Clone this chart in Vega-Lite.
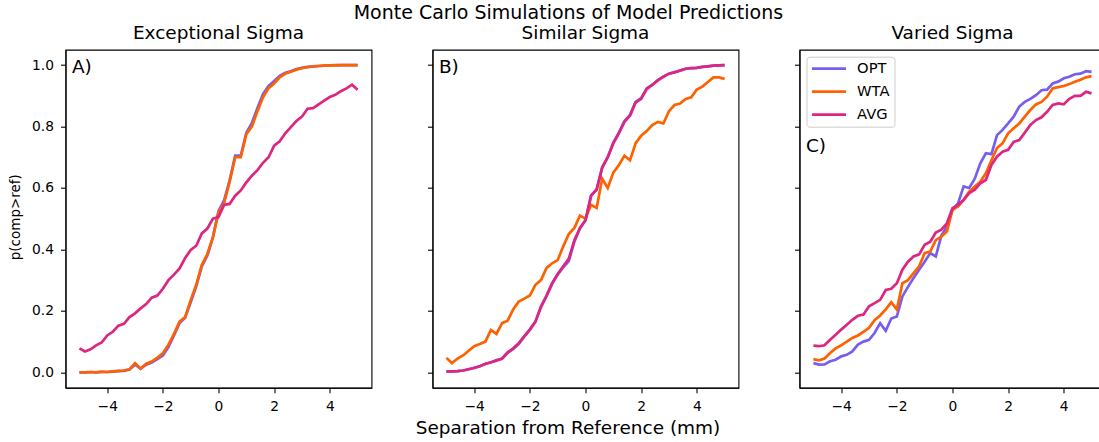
{
  "$schema": "https://vega.github.io/schema/vega-lite/v6.json",
  "padding": {"left": 7.5, "top": 3.7, "right": 0, "bottom": 0},
  "background": "white",
  "bounds": "flush",
  "title": {"text": "Monte Carlo Simulations of Model Predictions", "fontSize": 19, "fontWeight": "normal", "font": "DejaVu Sans", "anchor": "middle", "dx": 11.4, "offset": -14.7, "baseline": "alphabetic", "color": "#000"},
  "config": {
    "font": "DejaVu Sans",
    "view": {"stroke": "#000", "strokeWidth": 1.1},
    "axis": {"grid": false, "domainColor": "#000", "tickColor": "#000", "labelColor": "#000", "titleColor": "#000", "labelFontSize": 13.8, "titleFontSize": 13.5, "titleFontWeight": "normal", "tickSize": 5, "labelPadding": 7, "domainWidth": 1.1, "tickWidth": 1.1, "labelFont": "DejaVu Sans", "titleFont": "DejaVu Sans"},
    "title": {"fontSize": 18.5, "fontWeight": "normal", "color": "#000", "offset": 7.6, "baseline": "alphabetic", "font": "DejaVu Sans"},
    "legend": {"orient": "top-left", "offset": 7, "title": null, "symbolType": "stroke", "symbolStrokeWidth": 2.7, "symbolSize": 1156, "clipHeight": 16, "rowPadding": 7, "padding": 4, "labelOffset": 9.6, "labelFontSize": 14.7, "labelColor": "#000", "labelFont": "DejaVu Sans", "fillColor": "white", "strokeColor": "#cccccc", "cornerRadius": 3}
  },
  "spacing": 61,
  "resolve": {"legend": {"color": "independent"}},
  "datasets": {
    "A": [
      {"x": -5.0, "OPT": 0.000, "WTA": 0.000, "AVG": 0.078},
      {"x": -4.8, "OPT": 0.000, "WTA": 0.000, "AVG": 0.068},
      {"x": -4.6, "OPT": 0.001, "WTA": 0.001, "AVG": 0.075},
      {"x": -4.4, "OPT": 0.000, "WTA": 0.000, "AVG": 0.088},
      {"x": -4.2, "OPT": 0.001, "WTA": 0.002, "AVG": 0.097},
      {"x": -4.0, "OPT": 0.001, "WTA": 0.001, "AVG": 0.120},
      {"x": -3.8, "OPT": 0.002, "WTA": 0.003, "AVG": 0.132},
      {"x": -3.6, "OPT": 0.004, "WTA": 0.005, "AVG": 0.152},
      {"x": -3.4, "OPT": 0.005, "WTA": 0.006, "AVG": 0.158},
      {"x": -3.2, "OPT": 0.009, "WTA": 0.010, "AVG": 0.180},
      {"x": -3.0, "OPT": 0.025, "WTA": 0.030, "AVG": 0.192},
      {"x": -2.8, "OPT": 0.012, "WTA": 0.012, "AVG": 0.208},
      {"x": -2.6, "OPT": 0.025, "WTA": 0.028, "AVG": 0.222},
      {"x": -2.4, "OPT": 0.032, "WTA": 0.035, "AVG": 0.243},
      {"x": -2.2, "OPT": 0.043, "WTA": 0.048, "AVG": 0.250},
      {"x": -2.0, "OPT": 0.055, "WTA": 0.062, "AVG": 0.272},
      {"x": -1.8, "OPT": 0.082, "WTA": 0.090, "AVG": 0.300},
      {"x": -1.6, "OPT": 0.120, "WTA": 0.125, "AVG": 0.318},
      {"x": -1.4, "OPT": 0.160, "WTA": 0.165, "AVG": 0.338},
      {"x": -1.2, "OPT": 0.178, "WTA": 0.180, "AVG": 0.372},
      {"x": -1.0, "OPT": 0.228, "WTA": 0.235, "AVG": 0.398},
      {"x": -0.8, "OPT": 0.280, "WTA": 0.285, "AVG": 0.412},
      {"x": -0.6, "OPT": 0.345, "WTA": 0.350, "AVG": 0.452},
      {"x": -0.4, "OPT": 0.380, "WTA": 0.385, "AVG": 0.468},
      {"x": -0.2, "OPT": 0.440, "WTA": 0.440, "AVG": 0.500},
      {"x": 0.0, "OPT": 0.525, "WTA": 0.520, "AVG": 0.505},
      {"x": 0.2, "OPT": 0.560, "WTA": 0.550, "AVG": 0.545},
      {"x": 0.4, "OPT": 0.625, "WTA": 0.620, "AVG": 0.548},
      {"x": 0.6, "OPT": 0.705, "WTA": 0.700, "AVG": 0.575},
      {"x": 0.8, "OPT": 0.705, "WTA": 0.700, "AVG": 0.592},
      {"x": 1.0, "OPT": 0.780, "WTA": 0.775, "AVG": 0.618},
      {"x": 1.2, "OPT": 0.812, "WTA": 0.800, "AVG": 0.640},
      {"x": 1.4, "OPT": 0.860, "WTA": 0.850, "AVG": 0.658},
      {"x": 1.6, "OPT": 0.905, "WTA": 0.895, "AVG": 0.682},
      {"x": 1.8, "OPT": 0.932, "WTA": 0.925, "AVG": 0.700},
      {"x": 2.0, "OPT": 0.948, "WTA": 0.940, "AVG": 0.738},
      {"x": 2.2, "OPT": 0.965, "WTA": 0.960, "AVG": 0.752},
      {"x": 2.4, "OPT": 0.975, "WTA": 0.972, "AVG": 0.778},
      {"x": 2.6, "OPT": 0.980, "WTA": 0.978, "AVG": 0.798},
      {"x": 2.8, "OPT": 0.987, "WTA": 0.985, "AVG": 0.818},
      {"x": 3.0, "OPT": 0.991, "WTA": 0.990, "AVG": 0.832},
      {"x": 3.2, "OPT": 0.994, "WTA": 0.993, "AVG": 0.858},
      {"x": 3.4, "OPT": 0.996, "WTA": 0.996, "AVG": 0.860},
      {"x": 3.6, "OPT": 0.997, "WTA": 0.997, "AVG": 0.872},
      {"x": 3.8, "OPT": 0.998, "WTA": 0.998, "AVG": 0.884},
      {"x": 4.0, "OPT": 0.999, "WTA": 0.999, "AVG": 0.896},
      {"x": 4.2, "OPT": 1.000, "WTA": 0.999, "AVG": 0.903},
      {"x": 4.4, "OPT": 1.000, "WTA": 1.000, "AVG": 0.915},
      {"x": 4.6, "OPT": 1.000, "WTA": 1.000, "AVG": 0.924},
      {"x": 4.8, "OPT": 1.000, "WTA": 1.000, "AVG": 0.936},
      {"x": 5.0, "OPT": 1.000, "WTA": 1.000, "AVG": 0.920}
    ],
    "B": [
      {"x": -5.0, "OPT": 0.003, "WTA": 0.047, "AVG": 0.003},
      {"x": -4.8, "OPT": 0.003, "WTA": 0.030, "AVG": 0.003},
      {"x": -4.6, "OPT": 0.004, "WTA": 0.045, "AVG": 0.004},
      {"x": -4.4, "OPT": 0.006, "WTA": 0.055, "AVG": 0.006},
      {"x": -4.2, "OPT": 0.010, "WTA": 0.070, "AVG": 0.010},
      {"x": -4.0, "OPT": 0.015, "WTA": 0.085, "AVG": 0.014},
      {"x": -3.8, "OPT": 0.020, "WTA": 0.092, "AVG": 0.020},
      {"x": -3.6, "OPT": 0.027, "WTA": 0.100, "AVG": 0.028},
      {"x": -3.4, "OPT": 0.032, "WTA": 0.138, "AVG": 0.033},
      {"x": -3.2, "OPT": 0.040, "WTA": 0.125, "AVG": 0.038},
      {"x": -3.0, "OPT": 0.044, "WTA": 0.160, "AVG": 0.045},
      {"x": -2.8, "OPT": 0.063, "WTA": 0.168, "AVG": 0.065},
      {"x": -2.6, "OPT": 0.076, "WTA": 0.205, "AVG": 0.078},
      {"x": -2.4, "OPT": 0.092, "WTA": 0.230, "AVG": 0.095},
      {"x": -2.2, "OPT": 0.116, "WTA": 0.240, "AVG": 0.118},
      {"x": -2.0, "OPT": 0.138, "WTA": 0.250, "AVG": 0.140},
      {"x": -1.8, "OPT": 0.165, "WTA": 0.285, "AVG": 0.165},
      {"x": -1.6, "OPT": 0.212, "WTA": 0.300, "AVG": 0.215},
      {"x": -1.4, "OPT": 0.248, "WTA": 0.340, "AVG": 0.250},
      {"x": -1.2, "OPT": 0.288, "WTA": 0.355, "AVG": 0.290},
      {"x": -1.0, "OPT": 0.318, "WTA": 0.365, "AVG": 0.320},
      {"x": -0.8, "OPT": 0.342, "WTA": 0.410, "AVG": 0.345},
      {"x": -0.6, "OPT": 0.362, "WTA": 0.450, "AVG": 0.370},
      {"x": -0.4, "OPT": 0.425, "WTA": 0.470, "AVG": 0.430},
      {"x": -0.2, "OPT": 0.468, "WTA": 0.510, "AVG": 0.470},
      {"x": 0.0, "OPT": 0.495, "WTA": 0.500, "AVG": 0.495},
      {"x": 0.2, "OPT": 0.575, "WTA": 0.545, "AVG": 0.575},
      {"x": 0.4, "OPT": 0.595, "WTA": 0.535, "AVG": 0.595},
      {"x": 0.6, "OPT": 0.668, "WTA": 0.630, "AVG": 0.665},
      {"x": 0.8, "OPT": 0.700, "WTA": 0.600, "AVG": 0.700},
      {"x": 1.0, "OPT": 0.748, "WTA": 0.650, "AVG": 0.745},
      {"x": 1.2, "OPT": 0.780, "WTA": 0.675, "AVG": 0.778},
      {"x": 1.4, "OPT": 0.818, "WTA": 0.705, "AVG": 0.815},
      {"x": 1.6, "OPT": 0.838, "WTA": 0.690, "AVG": 0.835},
      {"x": 1.8, "OPT": 0.880, "WTA": 0.745, "AVG": 0.878},
      {"x": 2.0, "OPT": 0.892, "WTA": 0.770, "AVG": 0.890},
      {"x": 2.2, "OPT": 0.924, "WTA": 0.785, "AVG": 0.922},
      {"x": 2.4, "OPT": 0.936, "WTA": 0.805, "AVG": 0.935},
      {"x": 2.6, "OPT": 0.951, "WTA": 0.815, "AVG": 0.950},
      {"x": 2.8, "OPT": 0.962, "WTA": 0.810, "AVG": 0.962},
      {"x": 3.0, "OPT": 0.972, "WTA": 0.850, "AVG": 0.972},
      {"x": 3.2, "OPT": 0.977, "WTA": 0.870, "AVG": 0.976},
      {"x": 3.4, "OPT": 0.982, "WTA": 0.875, "AVG": 0.982},
      {"x": 3.6, "OPT": 0.988, "WTA": 0.890, "AVG": 0.988},
      {"x": 3.8, "OPT": 0.990, "WTA": 0.895, "AVG": 0.990},
      {"x": 4.0, "OPT": 0.991, "WTA": 0.920, "AVG": 0.991},
      {"x": 4.2, "OPT": 0.994, "WTA": 0.930, "AVG": 0.994},
      {"x": 4.4, "OPT": 0.996, "WTA": 0.945, "AVG": 0.996},
      {"x": 4.6, "OPT": 0.998, "WTA": 0.960, "AVG": 0.998},
      {"x": 4.8, "OPT": 0.999, "WTA": 0.960, "AVG": 0.999},
      {"x": 5.0, "OPT": 1.000, "WTA": 0.955, "AVG": 1.000}
    ],
    "C": [
      {"x": -5.0, "OPT": 0.030, "WTA": 0.043, "AVG": 0.087},
      {"x": -4.8, "OPT": 0.025, "WTA": 0.039, "AVG": 0.085},
      {"x": -4.6, "OPT": 0.026, "WTA": 0.045, "AVG": 0.088},
      {"x": -4.4, "OPT": 0.036, "WTA": 0.063, "AVG": 0.106},
      {"x": -4.2, "OPT": 0.041, "WTA": 0.078, "AVG": 0.122},
      {"x": -4.0, "OPT": 0.052, "WTA": 0.088, "AVG": 0.139},
      {"x": -3.8, "OPT": 0.057, "WTA": 0.100, "AVG": 0.155},
      {"x": -3.6, "OPT": 0.068, "WTA": 0.112, "AVG": 0.171},
      {"x": -3.4, "OPT": 0.090, "WTA": 0.120, "AVG": 0.184},
      {"x": -3.2, "OPT": 0.100, "WTA": 0.132, "AVG": 0.188},
      {"x": -3.0, "OPT": 0.106, "WTA": 0.145, "AVG": 0.215},
      {"x": -2.8, "OPT": 0.128, "WTA": 0.170, "AVG": 0.225},
      {"x": -2.6, "OPT": 0.160, "WTA": 0.185, "AVG": 0.236},
      {"x": -2.4, "OPT": 0.135, "WTA": 0.205, "AVG": 0.268},
      {"x": -2.2, "OPT": 0.175, "WTA": 0.228, "AVG": 0.272},
      {"x": -2.0, "OPT": 0.182, "WTA": 0.204, "AVG": 0.290},
      {"x": -1.8, "OPT": 0.247, "WTA": 0.290, "AVG": 0.334},
      {"x": -1.6, "OPT": 0.278, "WTA": 0.300, "AVG": 0.360},
      {"x": -1.4, "OPT": 0.307, "WTA": 0.323, "AVG": 0.377},
      {"x": -1.2, "OPT": 0.334, "WTA": 0.345, "AVG": 0.384},
      {"x": -1.0, "OPT": 0.360, "WTA": 0.388, "AVG": 0.415},
      {"x": -0.8, "OPT": 0.388, "WTA": 0.393, "AVG": 0.425},
      {"x": -0.6, "OPT": 0.377, "WTA": 0.430, "AVG": 0.455},
      {"x": -0.4, "OPT": 0.445, "WTA": 0.442, "AVG": 0.464},
      {"x": -0.2, "OPT": 0.475, "WTA": 0.458, "AVG": 0.485},
      {"x": 0.0, "OPT": 0.529, "WTA": 0.529, "AVG": 0.534},
      {"x": 0.2, "OPT": 0.550, "WTA": 0.540, "AVG": 0.545},
      {"x": 0.4, "OPT": 0.605, "WTA": 0.561, "AVG": 0.561},
      {"x": 0.6, "OPT": 0.600, "WTA": 0.588, "AVG": 0.583},
      {"x": 0.8, "OPT": 0.630, "WTA": 0.605, "AVG": 0.594},
      {"x": 1.0, "OPT": 0.680, "WTA": 0.620, "AVG": 0.615},
      {"x": 1.2, "OPT": 0.713, "WTA": 0.648, "AVG": 0.626},
      {"x": 1.4, "OPT": 0.710, "WTA": 0.690, "AVG": 0.675},
      {"x": 1.6, "OPT": 0.772, "WTA": 0.730, "AVG": 0.702},
      {"x": 1.8, "OPT": 0.789, "WTA": 0.745, "AVG": 0.718},
      {"x": 2.0, "OPT": 0.810, "WTA": 0.778, "AVG": 0.724},
      {"x": 2.2, "OPT": 0.832, "WTA": 0.794, "AVG": 0.750},
      {"x": 2.4, "OPT": 0.865, "WTA": 0.810, "AVG": 0.756},
      {"x": 2.6, "OPT": 0.880, "WTA": 0.832, "AVG": 0.780},
      {"x": 2.8, "OPT": 0.890, "WTA": 0.854, "AVG": 0.805},
      {"x": 3.0, "OPT": 0.902, "WTA": 0.872, "AVG": 0.821},
      {"x": 3.2, "OPT": 0.918, "WTA": 0.880, "AVG": 0.830},
      {"x": 3.4, "OPT": 0.920, "WTA": 0.897, "AVG": 0.848},
      {"x": 3.6, "OPT": 0.940, "WTA": 0.924, "AVG": 0.870},
      {"x": 3.8, "OPT": 0.946, "WTA": 0.928, "AVG": 0.875},
      {"x": 4.0, "OPT": 0.957, "WTA": 0.932, "AVG": 0.872},
      {"x": 4.2, "OPT": 0.962, "WTA": 0.938, "AVG": 0.890},
      {"x": 4.4, "OPT": 0.970, "WTA": 0.946, "AVG": 0.900},
      {"x": 4.6, "OPT": 0.972, "WTA": 0.952, "AVG": 0.900},
      {"x": 4.8, "OPT": 0.980, "WTA": 0.960, "AVG": 0.913},
      {"x": 5.0, "OPT": 0.978, "WTA": 0.964, "AVG": 0.908}
    ]
  },
  "hconcat": [
    {
      "width": 306, "height": 338,
      "title": "Exceptional Sigma",
      "layer": [
        {
          "data": {"name": "A"},
          "transform": [{"fold": ["OPT", "WTA", "AVG"], "as": ["model", "p"]}],
          "mark": {"type": "line", "strokeWidth": 2.7},
          "encoding": {
            "x": {"field": "x", "type": "quantitative", "scale": {"domain": [-5.5, 5.5], "nice": false, "zero": false}, "axis": {"values": [-4, -2, 0, 2, 4], "title": null}},
            "y": {"field": "p", "type": "quantitative", "scale": {"domain": [-0.05, 1.05], "nice": false, "zero": false}, "axis": {"values": [0, 0.2, 0.4, 0.6, 0.8, 1.0], "format": ".1f", "title": "p(comp>ref)", "titleX": -46, "titleY": 167, "titleBaseline": "alphabetic", "titleAngle": 270}},
            "color": {"field": "model", "type": "nominal", "sort": ["OPT", "WTA", "AVG"], "scale": {"domain": ["OPT", "WTA", "AVG"], "range": ["#785EF0", "#FE6100", "#DC267F"]}, "legend": null}
          }
        },
        {
          "data": {"values": [{"label": "A)"}]},
          "mark": {"type": "text", "align": "left", "baseline": "alphabetic", "fontSize": 18.5, "color": "#000"},
          "encoding": {"x": {"datum": -5.27}, "y": {"datum": 0.975}, "text": {"field": "label"}}
        }
      ]
    },
    {
      "width": 306, "height": 338,
      "title": "Similar Sigma",
      "layer": [
        {
          "data": {"name": "B"},
          "transform": [{"fold": ["OPT", "WTA", "AVG"], "as": ["model", "p"]}],
          "mark": {"type": "line", "strokeWidth": 2.7},
          "encoding": {
            "x": {"field": "x", "type": "quantitative", "scale": {"domain": [-5.5, 5.5], "nice": false, "zero": false}, "axis": {"values": [-4, -2, 0, 2, 4], "title": "Separation from Reference (mm)", "titleFontSize": 18.5, "titleX": 135, "titleY": 45.6, "titleBaseline": "alphabetic", "titleAlign": "center"}},
            "y": {"field": "p", "type": "quantitative", "scale": {"domain": [-0.05, 1.05], "nice": false, "zero": false}, "axis": {"values": [0, 0.2, 0.4, 0.6, 0.8, 1.0], "labels": false, "title": null}},
            "color": {"field": "model", "type": "nominal", "sort": ["OPT", "WTA", "AVG"], "scale": {"domain": ["OPT", "WTA", "AVG"], "range": ["#785EF0", "#FE6100", "#DC267F"]}, "legend": null}
          }
        },
        {
          "data": {"values": [{"label": "B)"}]},
          "mark": {"type": "text", "align": "left", "baseline": "alphabetic", "fontSize": 18.5, "color": "#000"},
          "encoding": {"x": {"datum": -5.27}, "y": {"datum": 0.975}, "text": {"field": "label"}}
        }
      ]
    },
    {
      "width": 306, "height": 338,
      "title": "Varied Sigma",
      "layer": [
        {
          "data": {"name": "C"},
          "transform": [{"fold": ["OPT", "WTA", "AVG"], "as": ["model", "p"]}],
          "mark": {"type": "line", "strokeWidth": 2.7},
          "encoding": {
            "x": {"field": "x", "type": "quantitative", "scale": {"domain": [-5.5, 5.5], "nice": false, "zero": false}, "axis": {"values": [-4, -2, 0, 2, 4], "title": null}},
            "y": {"field": "p", "type": "quantitative", "scale": {"domain": [-0.05, 1.05], "nice": false, "zero": false}, "axis": {"values": [0, 0.2, 0.4, 0.6, 0.8, 1.0], "labels": false, "title": null}},
            "color": {"field": "model", "type": "nominal", "sort": ["OPT", "WTA", "AVG"], "scale": {"domain": ["OPT", "WTA", "AVG"], "range": ["#785EF0", "#FE6100", "#DC267F"]}, "legend": {"orient": "top-left"}}
          }
        },
        {
          "data": {"values": [{"label": "C)"}]},
          "mark": {"type": "text", "align": "left", "baseline": "alphabetic", "fontSize": 18.5, "color": "#000"},
          "encoding": {"x": {"datum": -5.27}, "y": {"datum": 0.717}, "text": {"field": "label"}}
        }
      ]
    }
  ]
}
